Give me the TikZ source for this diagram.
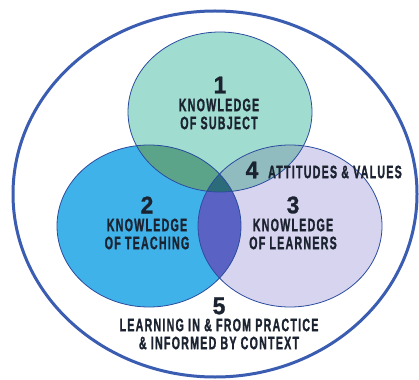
\documentclass[tikz,border=0pt]{standalone}
\usepackage{fontspec}
\usepackage{xcolor}
\usepackage{tikz}

\newfontfamily\vennfont{Liberation Sans}[UprightFont=* Bold, FakeStretch=0.59, FakeBold=1.2, LetterSpace=7]
\newfontfamily\vennnum{Liberation Sans}[UprightFont=* Bold, FakeStretch=0.95, FakeBold=1.2]

\definecolor{ringblue}{HTML}{3A5DB2}
\definecolor{edgeblue}{HTML}{2B4C9E}
\definecolor{subjfill}{HTML}{A0DCCF}
\definecolor{teachfill}{HTML}{40B2EA}
\definecolor{learnfill}{HTML}{D7D4EF}
\definecolor{subjteach}{HTML}{5BA48A}
\definecolor{subjlearn}{HTML}{90BCC0}
\definecolor{teachlearn}{HTML}{5A62C4}
\definecolor{allthree}{HTML}{2B6B7A}
\definecolor{inkdark}{HTML}{1C2330}

\tikzset{
  numlabel/.style={text=inkdark, inner sep=0pt, font=\vennnum\fontsize{24}{24}\selectfont},
  textlabel/.style={text=inkdark, inner sep=0pt, align=center, font=\vennfont\fontsize{18}{18}\selectfont}
}

\begin{document}
\begin{tikzpicture}[x=1pt,y=-1pt]
  \useasboundingbox (0,0) rectangle (419,379);
  \fill[white] (0,0) rectangle (419,379);

  % Outer ring
  \draw[ringblue, line width=3pt] (215,194) ellipse [x radius=202, y radius=183];

  % Circles
  \fill[subjfill] (220,112) ellipse [x radius=92, y radius=80];
  \fill[teachfill] (149,226) ellipse [x radius=92, y radius=81];
  \fill[learnfill] (290,226) ellipse [x radius=92, y radius=81];

  % Overlaps
  \begin{scope}
    \clip (220,112) ellipse [x radius=92, y radius=80];
    \fill[subjteach] (149,226) ellipse [x radius=92, y radius=81];
    \fill[subjlearn] (290,226) ellipse [x radius=92, y radius=81];
  \end{scope}
  \begin{scope}
    \clip (149,226) ellipse [x radius=92, y radius=81];
    \fill[teachlearn] (290,226) ellipse [x radius=92, y radius=81];
    \clip (290,226) ellipse [x radius=92, y radius=81];
    \fill[allthree] (220,112) ellipse [x radius=92, y radius=80];
  \end{scope}

  % Outlines
  \draw[edgeblue, line width=0.8pt] (220,112) ellipse [x radius=92, y radius=80];
  \draw[edgeblue, line width=0.8pt] (149,226) ellipse [x radius=92, y radius=81];
  \draw[edgeblue, line width=0.8pt] (290,226) ellipse [x radius=92, y radius=81];

  % Labels
  \node[numlabel] (n1) at (220,85) {1};
  \node[textlabel] (subj) at (219,114) {KNOWLEDGE\\OF SUBJECT};

  \node[numlabel] (n2) at (147,205) {2};
  \node[textlabel] (teach) at (147,234) {KNOWLEDGE\\OF TEACHING};

  \node[numlabel] (n3) at (293,205) {3};
  \node[textlabel] (learn) at (293,234) {KNOWLEDGE\\OF LEARNERS};

  \node[numlabel] (n4) at (252,170) {4};
  \node[textlabel, anchor=west] (attit) at (268,172) {ATTITUDES \& VALUES};

  \node[numlabel] (n5) at (219,306) {5};
  \node[textlabel] (pract) at (219,334) {LEARNING IN \& FROM PRACTICE\\\& INFORMED BY CONTEXT};
\end{tikzpicture}
\end{document}
